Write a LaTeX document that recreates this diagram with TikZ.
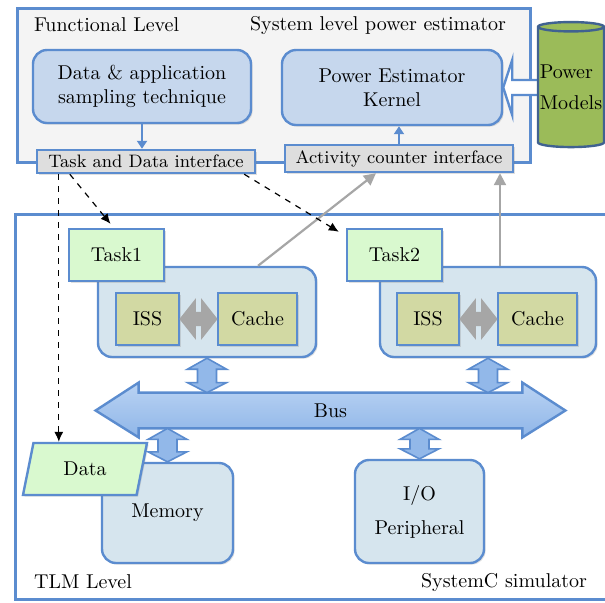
\documentclass[tikz,border=0pt]{standalone}
\usetikzlibrary{shapes.geometric,arrows.meta,calc,shadows}
\definecolor{frameblue}{HTML}{5B8CCF}
\definecolor{panelgray}{HTML}{F4F4F4}
\definecolor{kernelblue}{HTML}{C6D7ED}
\definecolor{ifacegray}{HTML}{DEDEDE}
\definecolor{modelgreen}{HTML}{9BBB59}
\definecolor{taskgreen}{HTML}{D9F9CF}
\definecolor{procblue}{HTML}{D6E5EE}
\definecolor{cpuolive}{HTML}{D2D9A3}
\definecolor{busblue}{HTML}{9CC0EE}
\definecolor{linkgray}{HTML}{A6A6A6}
\tikzset{
  frame/.style={draw=frameblue,line width=1.5pt,inner sep=0pt},
  box/.style={draw=frameblue,line width=1.2pt,inner sep=0pt,align=center,
    drop shadow={opacity=0.25,shadow xshift=0.8pt,shadow yshift=-0.8pt}},
  roundbox/.style={box,rounded corners=7pt},
  bluelink/.style={frameblue,line width=1pt,-{Triangle[length=4pt,width=5pt]}},
  graylink/.style={linkgray,line width=1.1pt,-{Triangle[length=6pt,width=6pt]}},
  dashlink/.style={black,dashed,line width=0.6pt,-{Latex[length=5pt,width=4.5pt]}},
  fatblue/.style={draw=frameblue,line width=0.8pt,fill=busblue!85!frameblue},
  fatgray/.style={draw=gray!70,line width=0.6pt,fill=linkgray}
}
% vertical fat double arrow, top point first
\newcommand{\fatvarrow}[2]{\draw[fatblue] let \p1=(#1), \p2=(#2) in
  (\x1,\y1) -- (\x1+9.75pt,\y1-5.5pt) -- (\x1+4.75pt,\y1-5.5pt) -- (\x1+4.75pt,\y2+5pt)
  -- (\x1+9.75pt,\y2+5pt) -- (\x1,\y2) -- (\x1-9.75pt,\y2+5pt) -- (\x1-4.75pt,\y2+5pt)
  -- (\x1-4.75pt,\y1-5.5pt) -- (\x1-9.75pt,\y1-5.5pt) -- cycle;}
% horizontal fat double arrow, left point first
\newcommand{\fathgarrow}[2]{\draw[fatgray] let \p1=(#1), \p2=(#2) in
  (\x1,\y1) -- (\x1+7.5pt,\y1+9.5pt) -- (\x1+7.5pt,\y1+3.25pt) -- (\x2-7.5pt,\y1+3.25pt)
  -- (\x2-7.5pt,\y1+9.5pt) -- (\x2,\y1) -- (\x2-7.5pt,\y1-9.5pt) -- (\x2-7.5pt,\y1-3.25pt)
  -- (\x1+7.5pt,\y1-3.25pt) -- (\x1+7.5pt,\y1-9.5pt) -- cycle;}
\begin{document}
\begin{tikzpicture}[x=0.5pt,y=-0.5pt]
\useasboundingbox (0,0) rectangle (605,602);
% the two levels
\node[frame,fill=panelgray,minimum width=256.5pt,minimum height=77pt] (func) at (273.5,85) {};
\node[frame,fill=white,minimum width=298.5pt,minimum height=192.5pt] (tlm) at (313.5,406.5) {};
\node[anchor=west] (funclabel) at (27,25) {Functional Level};
\node[anchor=east] (estlabel) at (513,25) {System level power estimator};
\node[anchor=west] (tlmlabel) at (27,582) {TLM Level};
\node[anchor=east] (simlabel) at (594,582) {SystemC simulator};
% functional level
\node[roundbox,fill=kernelblue,minimum width=109pt,minimum height=36.5pt] (sampling) at (142,86.5) {Data \& application\\sampling technique};
\node[roundbox,fill=kernelblue,minimum width=110pt,minimum height=37.5pt] (kernel) at (392,87.5) {Power Estimator\\Kernel};
\node[box,fill=ifacegray,minimum width=109pt,minimum height=11.5pt,font=\small] (taskif) at (146,161.5) {Task and Data interface};
\node[box,fill=ifacegray,minimum width=114pt,minimum height=13.5pt,font=\small] (actif) at (399,158.5) {Activity counter interface};
\draw[bluelink] (sampling.south) -- (sampling.south |- taskif.north);
\draw[bluelink] (actif.north) -- (actif.north |- kernel.south);
\draw[frameblue,line width=1.2pt,fill=white] (kernel.east) -- ++(4.5pt,13.75pt) -- ++(0,-10pt) -- ++(13.5pt,0) -- ++(0,-7.5pt) -- ++(-13.5pt,0) -- ++(0,-10pt) -- cycle;
\node[cylinder,shape border rotate=90,aspect=0.15,draw=frameblue!70!black,line width=1.2pt,fill=modelgreen,
  minimum width=33pt,minimum height=62.5pt,inner sep=0pt,align=left] (models) at (571,87.5) {Power\\[3.5pt]Models};
% processors
\node[roundbox,fill=procblue,minimum width=109pt,minimum height=45pt] (proc1) at (207,312) {};
\node[box,fill=taskgreen,minimum width=47.5pt,minimum height=26pt] (task1) at (116.5,255) {Task1};
\node[box,fill=cpuolive,minimum width=31.5pt,minimum height=26pt] (iss1) at (147.5,319) {ISS};
\node[box,fill=cpuolive,minimum width=39.5pt,minimum height=26pt] (cache1) at (257.5,319) {Cache};
\node[roundbox,fill=procblue,minimum width=108pt,minimum height=45pt] (proc2) at (488,312) {};
\node[box,fill=taskgreen,minimum width=47.5pt,minimum height=26pt] (task2) at (394.5,255) {Task2};
\node[box,fill=cpuolive,minimum width=31pt,minimum height=26pt] (iss2) at (428,319) {ISS};
\node[box,fill=cpuolive,minimum width=39.5pt,minimum height=26pt] (cache2) at (537.5,319) {Cache};
\fathgarrow{iss1.east}{cache1.west}
\fathgarrow{iss2.east}{cache2.west}
% bus
\node[inner sep=0pt,minimum width=234.5pt,minimum height=17.5pt] (bus) at (330.5,410.5) {};
\draw[draw=frameblue,line width=1.2pt,top color=busblue!70!white,bottom color=busblue!80!frameblue]
  (bus.west) -- ([xshift=21.5pt,yshift=5pt]bus.north west) -- ([xshift=21.5pt]bus.north west)
  -- ([xshift=-21.5pt]bus.north east) -- ([xshift=-21.5pt,yshift=5pt]bus.north east) -- (bus.east)
  -- ([xshift=-21.5pt,yshift=-4.5pt]bus.south east) -- ([xshift=-21.5pt]bus.south east)
  -- ([xshift=21.5pt]bus.south west) -- ([xshift=21.5pt,yshift=-4.5pt]bus.south west) -- cycle;
\node (buslabel) at (bus.center) {Bus};
% memory and peripheral
\node[roundbox,fill=procblue,minimum width=65.5pt,minimum height=50pt] (memory) at (167.5,513) {\raisebox{-2pt}{Memory}};
\node[roundbox,fill=procblue,minimum width=64.5pt,minimum height=51.5pt] (io) at (419.5,511.5) {I/O\\[5pt]Peripheral};
\node[trapezium,trapezium left angle=53,trapezium right angle=127,trapezium stretches body,draw=frameblue,line width=1.2pt,
  fill=taskgreen,minimum width=62pt,minimum height=26pt,inner sep=0pt,
  drop shadow={opacity=0.25,shadow xshift=0.8pt,shadow yshift=-0.8pt}] (data) at (85,469) {Data};
\fatvarrow{proc1.south}{proc1.south |- bus.north}
\fatvarrow{proc2.south}{proc2.south |- bus.north}
\fatvarrow{bus.south -| memory.north}{memory.north}
\fatvarrow{bus.south -| io.north}{io.north}
% activity and task links
\draw[graylink] ([xshift=25.5pt]proc1.north) -- ([xshift=-11.5pt]actif.south);
\draw[graylink] ([xshift=6pt]proc2.north) -- ([xshift=6pt]proc2.north |- actif.south);
\draw[dashlink] ([xshift=11.5pt]taskif.south west) -- ([xshift=11.5pt]taskif.south west |- data.north);
\draw[dashlink] ([xshift=17pt]taskif.south west) -- ([xshift=-3pt,yshift=2pt]task1.north);
\draw[dashlink] ([xshift=-6pt]taskif.south east) -- ([xshift=-3.5pt,yshift=-2pt]task2.north west);
\end{tikzpicture}
\end{document}
